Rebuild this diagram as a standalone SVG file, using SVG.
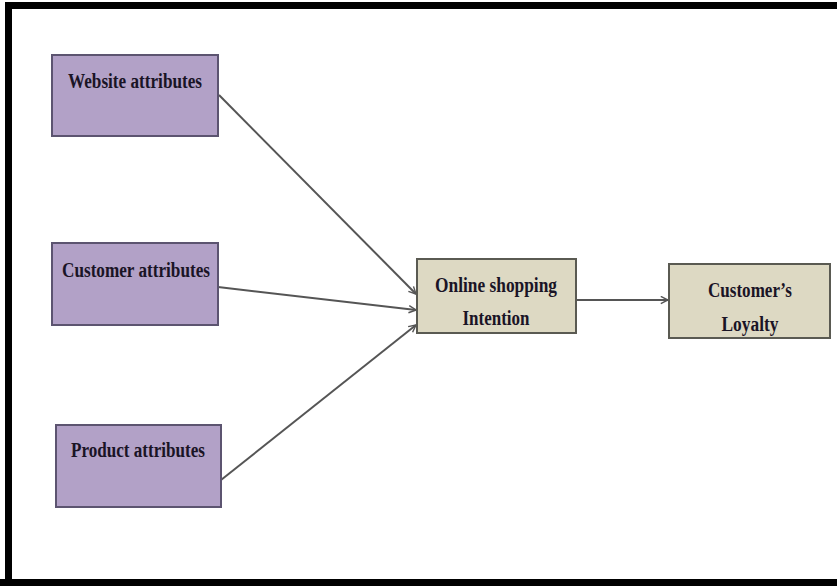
<svg xmlns="http://www.w3.org/2000/svg" width="837" height="586" viewBox="0 0 837 586">
<defs>
<style>
.frame{fill:none;stroke:#000;stroke-width:7}
.purple{fill:#b2a1c7;stroke:#5c5470;stroke-width:2}
.tan{fill:#ddd9c3;stroke:#5a5a52;stroke-width:2}
.lbl{font-family:"Liberation Serif","Times New Roman",serif;font-weight:bold;font-size:20px;fill:#1a1426;text-anchor:middle}
.conn{stroke:#555;stroke-width:2;fill:none;marker-end:url(#arr)}
</style>
<marker id="arr" viewBox="0 0 10 10" refX="9" refY="5" markerWidth="9" markerHeight="9" markerUnits="userSpaceOnUse" orient="auto">
<path d="M1,1 L9,5 L1,9" fill="none" stroke="#555" stroke-width="1.6"/>
</marker>
</defs>
<rect x="0" y="0" width="837" height="586" fill="#fff"/>
<path class="frame" d="M8.5,586 V5.5 H840 M0,582.5 H840"/>
<g id="connectors">
<line class="conn" x1="219" y1="95" x2="416" y2="294"/>
<line class="conn" x1="218" y1="287" x2="416" y2="310"/>
<line class="conn" x1="221" y1="480" x2="416" y2="325"/>
<line class="conn" x1="576" y1="300" x2="668" y2="300"/>
</g>
<g id="website">
<rect class="purple" x="52" y="55" width="166" height="81"/>
<text class="lbl" x="135" y="88" textLength="134" lengthAdjust="spacingAndGlyphs">Website attributes</text>
</g>
<g id="customer">
<rect class="purple" x="52" y="243" width="166" height="82"/>
<text class="lbl" x="136" y="277" textLength="148" lengthAdjust="spacingAndGlyphs">Customer attributes</text>
</g>
<g id="product">
<rect class="purple" x="56" y="425" width="165" height="82"/>
<text class="lbl" x="138" y="457" textLength="134" lengthAdjust="spacingAndGlyphs">Product attributes</text>
</g>
<g id="online">
<rect class="tan" x="417" y="259" width="159" height="74"/>
<text class="lbl" x="496" y="292" textLength="122" lengthAdjust="spacingAndGlyphs">Online shopping</text>
<text class="lbl" x="496" y="325" textLength="67" lengthAdjust="spacingAndGlyphs">Intention</text>
</g>
<g id="loyalty">
<rect class="tan" x="669" y="264" width="161" height="74"/>
<text class="lbl" x="750" y="297" textLength="84" lengthAdjust="spacingAndGlyphs">Customer’s</text>
<text class="lbl" x="750" y="331" textLength="57" lengthAdjust="spacingAndGlyphs">Loyalty</text>
</g>
</svg>
